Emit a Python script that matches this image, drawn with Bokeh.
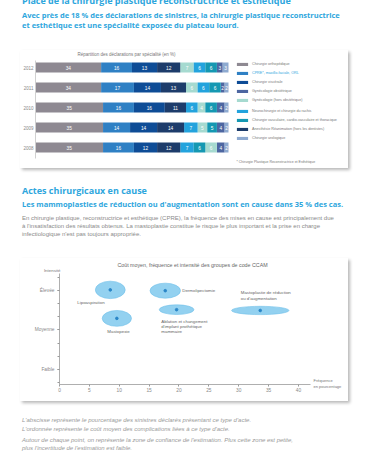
import numpy as np
from bokeh.plotting import figure
from bokeh.models import (ColumnDataSource, Div, Legend, LegendItem, Label,
                          FixedTicker, Range1d)
from bokeh.layouts import column
from bokeh.embed import file_html
from bokeh.resources import INLINE
from bokeh.core.properties import value

# ---------------- data : bar chart (share of claims by specialty, %) ----------------
years = [2012, 2011, 2010, 2009, 2008]
specialties = [
    "Chirurgie orthopédique",
    "CPRE*, maxillo-faciale, ORL",
    "Chirurgie viscérale",
    "Gynécologie obstétrique",
    "Gynécologie (hors obstétrique)",
    "Neurochirurgie et chirurgie du rachis",
    "Chirurgie vasculaire, cardio-vasculaire et thoracique",
    "Anesthésie Réanimation (hors les dentistes)",
    "Chirurgie urologique",
]
# segment order in each bar (index into specialties) and the values shown
order_2012 = [0, 1, 2, 7, 4, 5, 6, 3, 8]
values_2012 = [34, 16, 13, 12, 7, 6, 6, 3, 3]
order_2011 = [0, 1, 2, 7, 4, 5, 6, 3, 8]
values_2011 = [34, 17, 14, 13, 6, 6, 6, 2, 2]
order_2010 = [0, 1, 2, 7, 5, 4, 6, 3, 8]
values_2010 = [35, 16, 16, 11, 6, 4, 6, 4, 2]
order_2009 = [0, 1, 2, 7, 5, 4, 6, 3, 8]
values_2009 = [35, 14, 14, 14, 7, 5, 5, 4, 2]
order_2008 = [0, 1, 2, 7, 5, 6, 4, 3, 8]
values_2008 = [35, 16, 12, 12, 7, 6, 6, 4, 2]

# ---------------- data : bubble chart (CCAM groups) ----------------
acts = ["Lipoaspiration", "Mastopexie", "Dermolipectomie",
        "Ablation et changement\nd'implant prothétique\nmammaire",
        "Mastoplastie de réduction\nou d'augmentation"]
frequency = [8.5, 9.6, 17.7, 19.6, 33.6]          # % of claims
intensity = [3.01, 2.29, 2.99, 2.51, 2.49]        # 1 faible, 2 moyenne, 3 élevée
conf_width = [5.0, 4.9, 5.1, 5.8, 9.6]            # confidence zone (x units)
conf_height = [0.44, 0.40, 0.38, 0.245, 0.21]     # confidence zone (y units)
intensity_ticks = [1, 2, 3]
intensity_labels = ["Faible", "Moyenne", "Élevée"]
freq_ticks = [0, 5, 10, 15, 20, 25, 30, 35, 40]

# ---------------- styles ----------------
spec_colors = ["#8e8992", "#2f80c4", "#0e4c96", "#4d66a1", "#a6dad0",
               "#23a3dd", "#1598b2", "#1d3c6b", "#8eaad0"]
BLUE = "#2ea6dd"
label_dx = [-33, 1.7, 17, -15.3, -19.5]
label_dy = [10.3, 10.7, -2.7, 9.3, -20]
label_align = ["left", "center", "left", "left", "left"]
SHADOW = {"box-shadow": "2px 2px 3px rgba(0,0,0,0.28)"}

# ---------------- header ----------------
head_html = (
    f'<div style="margin:-4.5px 0 0 22px;font-family:\'Open Sans\';font-weight:700;'
    f'font-size:9px;line-height:10px;color:{BLUE};white-space:nowrap">'
    'Place de la chirurgie plastique reconstructrice et esthétique</div>'
    f'<div style="margin:5.6px 0 0 22px;font-family:\'Open Sans\';font-weight:700;'
    f'font-size:7.5px;line-height:9.7px;color:{BLUE};white-space:nowrap">'
    'Avec près de 18 % des déclarations de sinistres, la chirurgie plastique reconstructrice<br>'
    'et esthétique est une spécialité exposée du plateau lourd.</div>'
)
header = Div(text=head_html, width=370, height=50, margin=(0, 0, 0, 0))

# ---------------- bar chart ----------------
p1 = figure(width=328, height=118, output_backend="svg", toolbar_location=None,
            x_range=Range1d(-7.77, 162.18), y_range=Range1d(2006.95, 2012.85),
            margin=(0, 0, 0, 20), styles=SHADOW, frame_align=False)
p1.min_border = 0
p1.xaxis.visible = False
p1.xgrid.visible = False
p1.ygrid.visible = False
p1.outline_line_color = None
p1.yaxis.fixed_location = 0
p1.yaxis.ticker = FixedTicker(ticks=years, minor_ticks=[])
p1.yaxis.bounds = (2007.45, 2012.35)
p1.yaxis.axis_line_color = "#d0d0d0"
p1.yaxis.major_tick_line_color = None
p1.yaxis.minor_tick_line_color = None
p1.yaxis.major_tick_out = 0
p1.yaxis.major_tick_in = 0
p1.yaxis.minor_tick_out = 0
p1.yaxis.minor_tick_in = 0
p1.yaxis.major_label_text_font_size = "4.5px"
p1.yaxis.major_label_text_color = "#888888"
p1.yaxis.major_label_standoff = 2
p1.yaxis.axis_label_standoff = 0
p1.yaxis.major_label_text_font = "Liberation Sans"

orders = [order_2012, order_2011, order_2010, order_2009, order_2008]
vals = [values_2012, values_2011, values_2010, values_2009, values_2008]
seg = {k: dict(y=[], left=[], right=[]) for k in range(len(specialties))}
lab = dict(y=[], x=[], t=[])
for yr, od, vv in zip(years, orders, vals):
    cum = np.concatenate([[0], np.cumsum(vv)])
    for j, (k, v) in enumerate(zip(od, vv)):
        seg[k]["y"].append(yr)
        seg[k]["left"].append(float(cum[j]))
        seg[k]["right"].append(float(cum[j + 1]))
        lab["y"].append(yr)
        lab["x"].append(float(cum[j] + cum[j + 1]) / 2)
        lab["t"].append(str(v))

renderers = []
for k in range(len(specialties)):
    r = p1.hbar(y="y", left="left", right="right", height=0.5,
                source=ColumnDataSource(seg[k]), fill_color=spec_colors[k],
                line_color=None)
    renderers.append(r)
p1.text(x="x", y="y", text="t", source=ColumnDataSource(lab),
        text_color="white", text_font_size="4.8px", text_align="center",
        text_baseline="middle", text_font=value("Liberation Sans"))

def make_legend(idx, loc, color):
    lg = Legend(items=[LegendItem(label=specialties[k], renderers=[renderers[k]]) for k in idx],
                location=loc, padding=0, margin=0, spacing=5,
                glyph_height=4, glyph_width=14, label_height=4, label_standoff=3,
                label_text_font_size="3.7px", label_text_color=color,
                label_text_font="Liberation Sans",
                border_line_color=None, background_fill_alpha=0)
    p1.add_layout(lg)

make_legend([0], (215, 102.3), "#777777")
make_legend([1], (215, 92.6), BLUE)
make_legend([2, 3, 4], (215, 65.7), "#777777")
make_legend([5, 6, 7, 8], (215, 28), "#777777")

p1.add_layout(Label(x=57, y=114, x_units="screen", y_units="screen",
                    text="Répartition des déclarations par spécialité (en %)",
                    text_font_size="4.5px", text_color="#777777",
                    text_baseline="middle", text_font="Liberation Sans"))
p1.add_layout(Label(x=216, y=7, x_units="screen", y_units="screen",
                    text="* Chirurgie Plastique Reconstructrice et Esthétique",
                    text_font_size="3.5px", text_color="#777777",
                    text_baseline="middle", text_font="Liberation Sans"))

# ---------------- middle text ----------------
mid_html = (
    f'<div style="margin:16.5px 0 0 22px;font-family:\'Open Sans\';font-weight:700;'
    f'font-size:9px;line-height:11px;color:{BLUE};white-space:nowrap">'
    'Actes chirurgicaux en cause</div>'
    f'<div style="margin:4.5px 0 0 22px;font-family:\'Open Sans\';font-weight:700;'
    f'font-size:7.5px;line-height:8px;color:{BLUE};white-space:nowrap">'
    'Les mammoplasties de réduction ou d\'augmentation sont en cause dans 35 % des cas.</div>'
    '<div style="margin:5.8px 0 0 22px;font-family:\'Liberation Sans\';'
    'font-size:6px;line-height:8.3px;color:#8a8a8a;white-space:nowrap">'
    'En chirurgie plastique, reconstructrice et esthétique (CPRE), la fréquence des mises en cause est principalement due<br>'
    'à l\'insatisfaction des résultats obtenus. La mastoplastie constitue le risque le plus important et la prise en charge<br>'
    'infectiologique n\'est pas toujours appropriée.</div>'
)
middle = Div(text=mid_html, width=370, height=90, margin=(0, 0, 0, 0))

# ---------------- bubble chart ----------------
p2 = figure(width=328, height=143, output_backend="svg", toolbar_location=None,
            x_range=Range1d(-6.527, 48.37), y_range=Range1d(0.19, 3.803),
            margin=(0, 0, 0, 20), styles=SHADOW, frame_align=False)
p2.min_border = 0
p2.xgrid.visible = False
p2.ygrid.visible = False
p2.outline_line_color = None
for ax in (p2.xaxis, p2.yaxis):
    ax.axis_line_color = "#9a9a9a"
    ax.axis_line_width = 0.8
    ax.major_tick_line_color = "#9a9a9a"
    ax.minor_tick_line_color = "#9a9a9a"
    ax.major_tick_in = 0
    ax.major_tick_out = 2
    ax.minor_tick_in = 0
    ax.minor_tick_out = 2
    ax.major_label_text_font_size = "4.8px"
    ax.major_label_text_color = "#888888"
    ax.major_label_text_font = "Liberation Sans"
    ax.axis_label_standoff = 0
p2.xaxis.fixed_location = 0.62
p2.xaxis.bounds = (0, 42)
p2.xaxis.ticker = FixedTicker(ticks=freq_ticks, minor_ticks=[])
p2.xaxis.major_label_standoff = 2
p2.yaxis.fixed_location = 0
p2.yaxis.bounds = (0.62, 3.43)
p2.yaxis.ticker = FixedTicker(ticks=intensity_ticks,
                              minor_ticks=[float(v) for v in np.arange(2, 11) / 3])
p2.yaxis.major_label_overrides = {t: l for t, l in zip(intensity_ticks, intensity_labels)}
p2.yaxis.major_label_standoff = 3

bsrc = ColumnDataSource(dict(x=frequency, y=intensity, w=conf_width, h=conf_height,
                             t=acts, dx=label_dx, dy=label_dy, al=label_align))
p2.ellipse(x="x", y="y", width="w", height="h", source=bsrc,
           fill_color="#93d1f0", line_color="#6ec0ea", line_width=0.6)
p2.scatter(x="x", y="y", source=bsrc, size=2.6, color="#2a86c8")
p2.text(x="x", y="y", text="t", source=bsrc, x_offset="dx", y_offset="dy",
        text_align="al", text_baseline="top", text_font_size="4.4px",
        text_line_height=1.05, text_color="#666666",
        text_font=value("Liberation Sans"))

p2.add_layout(Label(x=172, y=137, x_units="screen", y_units="screen",
                    text="Coût moyen, fréquence et intensité des groupes de code CCAM",
                    text_font_size="5.3px", text_color="#666666", text_align="center",
                    text_baseline="middle", text_font="Liberation Sans"))
p2.add_layout(Label(x=40, y=131, x_units="screen", y_units="screen", text="Intensité",
                    text_font_size="4.4px", text_color="#777777", text_align="right",
                    text_baseline="middle", text_font="Liberation Sans"))
p2.add_layout(Label(x=293, y=18, x_units="screen", y_units="screen",
                    text="Fréquence\nen pourcentage",
                    text_font_size="4px", text_color="#777777", text_align="left",
                    text_baseline="middle", text_line_height=1.2,
                    text_font="Liberation Sans"))

# ---------------- notes ----------------
notes_html = (
    '<div style="margin:14.5px 0 0 22px;font-family:\'Liberation Sans\';font-style:italic;'
    'font-size:6px;line-height:9px;color:#9a9a9a;white-space:nowrap">'
    'L\'abscisse représente le pourcentage des sinistres déclarés présentant ce type d\'acte.<br>'
    'L\'ordonnée représente le coût moyen des complications liées à ce type d\'acte.</div>'
    '<div style="margin:2.2px 0 0 22px;font-family:\'Liberation Sans\';font-style:italic;'
    'font-size:6px;line-height:8.5px;color:#9a9a9a;white-space:nowrap">'
    'Autour de chaque point, on représente la zone de confiance de l\'estimation. Plus cette zone est petite,<br>'
    'plus l\'incertitude de l\'estimation est faible.</div>'
)
notes = Div(text=notes_html, width=370, height=63, margin=(0, 0, 0, 0))

page = column(header, p1, middle, p2, notes, spacing=0)
open("out.html", "w").write(file_html(page, INLINE))
